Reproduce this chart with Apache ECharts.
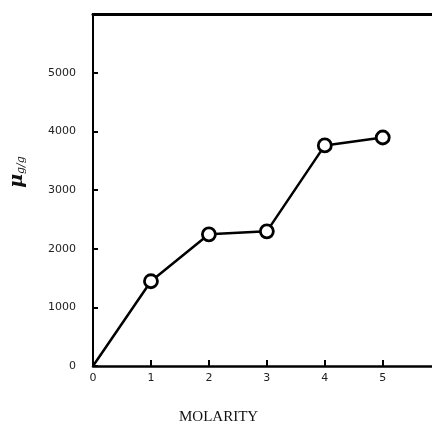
<!DOCTYPE html>
<html>
<head>
<meta charset="utf-8">
<script src="https://cdn.jsdelivr.net/npm/echarts@6/dist/echarts.min.js"></script>
<style>
  html, body { margin: 0; padding: 0; background: #fff; }
  #main { width: 432px; height: 426px; }
</style>
</head>
<body>
<div id="main"></div>
<script>
// molarity vs uptake
var molarity = [0, 1, 2, 3, 4, 5];
var uptake = [0, 1445, 2245, 2295, 3760, 3895];
var yTicks = [0, 1000, 2000, 3000, 4000, 5000];

~function () {
    var myChart = echarts.init(document.getElementById('main'));
    var points = molarity.map(function (m, i) {
        var p = {value: [m, uptake[i]]};
        if (i === 0) p.symbol = 'none';
        return p;
    });
    var option = {
        animation: false,
        title: {
            text: 'MOLARITY',
            left: 179,
            top: 410,
            padding: 0,
            textStyle: {
                fontFamily: 'Liberation Serif',
                fontWeight: 'normal',
                fontSize: 15,
                color: '#111'
            }
        },
        grid: {
            left: 92,
            top: 14,
            right: 0,
            bottom: 60
        },
        xAxis: [
            {
                type: 'value',
                min: 0,
                max: 5.85,
                interval: 1,
                splitLine: {show: false},
                axisLine: {lineStyle: {color: '#000', width: 2.5}},
                axisTick: {inside: true, length: 6, lineStyle: {color: '#000', width: 2}},
                axisLabel: {
                    color: '#222',
                    fontFamily: 'DejaVu Sans',
                    fontSize: 11,
                    margin: 7,
                    showMaxLabel: false,
                    formatter: function (v) { return v <= 5 ? String(v) : ''; }
                }
            },
            {
                // top frame line
                type: 'value',
                position: 'top',
                min: 0,
                max: 5.85,
                splitLine: {show: false},
                axisLine: {lineStyle: {color: '#000', width: 3}},
                axisTick: {show: false},
                axisLabel: {show: false}
            }
        ],
        yAxis: {
            type: 'value',
            min: 0,
            max: 6000,
            interval: 1000,
            name: '{mu|μ}{sub|g/g}',
            nameLocation: 'middle',
            nameRotate: 90,
            nameGap: 66,
            nameTextStyle: {
                padding: [0, 0, 0, 36],
                rich: {
                    mu: {fontFamily: 'DejaVu Serif', fontStyle: 'italic', fontWeight: 'bold', fontSize: 19, color: '#111'},
                    sub: {fontFamily: 'DejaVu Serif', fontStyle: 'italic', fontSize: 11, color: '#111', verticalAlign: 'bottom', padding: [6, 0, 0, 0]}
                }
            },
            splitLine: {show: false},
            axisLine: {show: true, lineStyle: {color: '#000', width: 2}},
            axisTick: {show: true, inside: true, length: 5, lineStyle: {color: '#000', width: 2}},
            axisLabel: {
                color: '#222',
                fontFamily: 'DejaVu Sans',
                fontSize: 11,
                margin: 17,
                formatter: function (v) { return yTicks.indexOf(v) >= 0 ? String(v) : ''; }
            }
        },
        series: [
            {
                type: 'line',
                data: points,
                symbol: 'circle',
                symbolSize: 13,
                itemStyle: {color: '#fff', borderColor: '#000', borderWidth: 2.8},
                lineStyle: {color: '#000', width: 2.5}
            }
        ]
    };
    myChart.setOption(option);
}();
</script>
</body>
</html>
